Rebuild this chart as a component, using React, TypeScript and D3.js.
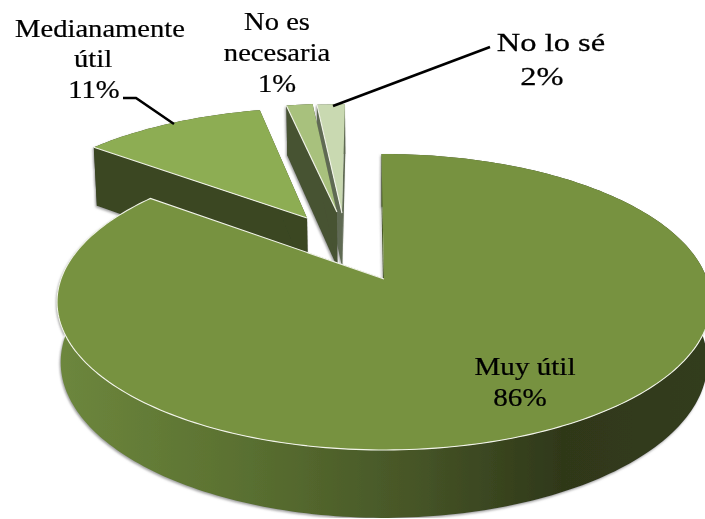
import React from "react";
import * as d3 from "d3";

// ---- data ----
const categories = ["Muy útil", "Medianamente útil", "No es necesaria", "No lo sé"];
const shares = [85.6, 11.1, 1.6, 1.7]; // slice sizes
const explodeAcross = [0, -0.255, -0.157, -0.14];
const explodeAlong = [0, -0.452, -0.5, -0.492];
const wallStretch = [1, 1.12, 1, 1];
const topColors = ["#779240", "#8dad52", "#a8c17d", "#c9d9b1"];
const wallColors = ["url(#wallGrad)", "#3a4621", "#475233", "#5f6a52"];

const W = 705, H = 519;
const persp = 0.1554, depthPersp = 0.011, depth = 60;
const startTilt = -0.009;
const xScale = d3.scaleLinear().domain([-1, 1]).range([384 - 323, 384 + 323]);
const yScale = d3.scaleLinear().domain([-1, 1]).range([279 - 144.4, 279 + 144.4]);
const lineGen = d3.line<[number, number]>();

function project(u: number, v: number, down: number): [number, number] {
  const w = 1 - persp * v + depthPersp * down;
  return [xScale(u / w), yScale(v / w) + (depth * down) / w];
}

const pieGen = d3
  .pie<number>()
  .sort(null)
  .value((d) => d)
  .startAngle(startTilt)
  .endAngle(startTilt + 2 * Math.PI);
const arcs = pieGen(shares);

function rimAngles(a0: number, a1: number) {
  const n = Math.max(4, Math.ceil((a1 - a0) / 0.02));
  return d3.range(n + 1).map((i) => a0 + ((a1 - a0) * i) / n);
}

function slicePaths(i: number) {
  const { startAngle: a0, endAngle: a1 } = arcs[i];
  const ou = explodeAcross[i], ov = explodeAlong[i], s = wallStretch[i];
  const rim = (a: number, down: number) =>
    project(ou + Math.sin(a), ov - Math.cos(a), down * s);
  const angles = rimAngles(a0, a1);
  const apexTop = project(ou, ov, 0);
  const apexBottom = project(ou, ov, s);
  const top = lineGen([apexTop, ...angles.map((a) => rim(a, 0))]) + "Z";
  const outerWall =
    lineGen([
      ...angles.map((a) => rim(a, 0)),
      ...angles.slice().reverse().map((a) => rim(a, 1)),
    ]) + "Z";
  const startWall = lineGen([apexTop, rim(a0, 0), rim(a0, 1), apexBottom]) + "Z";
  const endWall = lineGen([apexTop, rim(a1, 0), rim(a1, 1), apexBottom]) + "Z";
  // Pale highlight along the edges that face the viewer
  const edge =
    i === 0
      ? lineGen([
          ...rimAngles(1.62, a1).map((a) => rim(a, 0)),
          apexTop,
        ])
      : lineGen([rim(a0, 0), apexTop]);
  return { top, outerWall, startWall, endWall, edge: edge ?? "" };
}

const drawOrder = [3, 2, 1, 0];

type Label = { lines: string[]; x: number; y: number; dy: number; sx: number; off: number[] };
const labels: Label[] = [
  { lines: ["Medianamente", "útil", "11%"], x: 100, y: 37, dy: 30.5, sx: 1.1, off: [0, -7, -6] },
  { lines: ["No es", "necesaria", "1%"], x: 277, y: 30, dy: 31, sx: 1.1, off: [0, 0, 0] },
  { lines: ["No lo sé", "2%"], x: 551, y: 51, dy: 34, sx: 1.25, off: [0, -9] },
  { lines: ["Muy útil", "86%"], x: 525, y: 375, dy: 31, sx: 1.12, off: [0, -5] },
];
const leaders: [number, number][][] = [
  [[123, 98], [136, 98], [174, 124]],
  [[333, 106], [490, 47]],
];

export default function App() {
  return (
    <svg
      width={W}
      height={H}
      viewBox={`0 0 ${W} ${H}`}
      style={{ position: "absolute", left: 0, top: 0, background: "#fff" }}
    >
      <defs>
        <linearGradient id="wallGrad" gradientUnits="userSpaceOnUse" x1={57} x2={705} y1={0} y2={0}>
          <stop offset="0" stopColor="#6d873d" />
          <stop offset="0.3" stopColor="#596f30" />
          <stop offset="0.55" stopColor="#465527" />
          <stop offset="0.78" stopColor="#2f3819" />
          <stop offset="1" stopColor="#333c1c" />
        </linearGradient>
        <filter id="wallShadow" x="-5%" y="-5%" width="110%" height="110%">
          <feDropShadow dx="-1" dy="1.5" stdDeviation="1.2" floodColor="#777" floodOpacity="0.7" />
        </filter>
        <filter id="soft" x="0" y="0" width="100%" height="100%">
          <feGaussianBlur stdDeviation="0.35" />
        </filter>
      </defs>
      <g filter="url(#soft)">
        {drawOrder.map((i) => {
          const p = slicePaths(i);
          return (
            <g key={categories[i]}>
              <g filter="url(#wallShadow)">
                <path d={p.outerWall} fill={wallColors[i]} />
                <path d={p.startWall} fill={wallColors[i]} />
                <path d={p.endWall} fill={wallColors[i]} />
              </g>
              <path d={p.top} fill={topColors[i]} />
              <path d={p.edge} fill="none" stroke="#f2f4ea" strokeWidth={1.1} />
            </g>
          );
        })}
        {leaders.map((pts, i) => (
          <path key={i} d={lineGen(pts) ?? ""} fill="none" stroke="#000" strokeWidth={2.6} />
        ))}
        {labels.map((l) => (
          <text
            key={l.lines[0]}
            transform={`translate(${l.x},${l.y}) scale(${l.sx},1)`}
            textAnchor="middle"
            fontFamily="'Liberation Serif', serif"
            fontSize={26}
            fill="#000"
            stroke="#000"
            strokeWidth={0.25}
          >
            {l.lines.map((t, j) => (
              <tspan key={j} x={l.off[j] / l.sx} y={j * l.dy}>
                {t}
              </tspan>
            ))}
          </text>
        ))}
      </g>
    </svg>
  );
}
